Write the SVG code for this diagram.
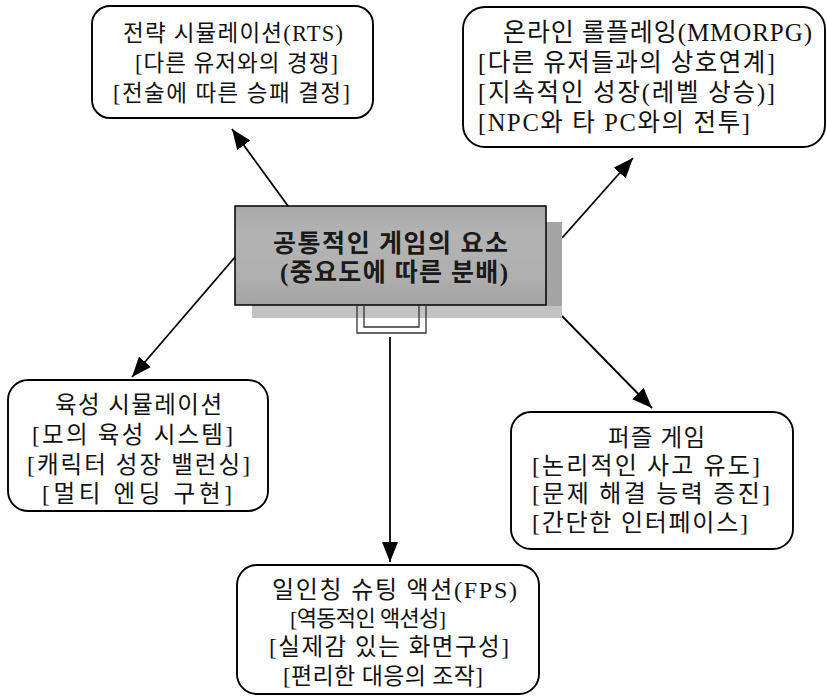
<svg xmlns="http://www.w3.org/2000/svg" width="827" height="696" viewBox="0 0 827 696">
<defs>
<style>
.box{fill:#fff;stroke:#000;stroke-width:1.9}
.t{font-family:"Liberation Serif","Noto Sans CJK KR",serif;font-size:23px;fill:#111}
.tb{font-family:"Liberation Serif","Noto Sans CJK KR",serif;font-size:25px;font-weight:bold;fill:#1a1a1a}
.conn{stroke:#000;stroke-width:1.8;fill:none}
</style>
<marker id="arr" viewBox="0 0 20 16" refX="20" refY="8" markerWidth="20" markerHeight="16" markerUnits="userSpaceOnUse" orient="auto">
<path d="M0,0 L20,8 L0,16 Z" fill="#000"/>
</marker>
<linearGradient id="fg" x1="0" y1="0" x2="0" y2="1">
<stop offset="0" stop-color="#a8a8a8"/>
<stop offset="0.3" stop-color="#b4b4b4"/>
<stop offset="0.75" stop-color="#aeaeae"/>
<stop offset="1" stop-color="#a2a2a2"/>
</linearGradient>
</defs>
<rect width="827" height="696" fill="#fff"/>

<g id="connectors">
<line class="conn" x1="288" y1="206" x2="232" y2="129" marker-end="url(#arr)"/>
<line class="conn" x1="562" y1="238" x2="633" y2="158" marker-end="url(#arr)"/>
<line class="conn" x1="236" y1="256" x2="132" y2="377" marker-end="url(#arr)"/>
<line class="conn" x1="390" y1="337" x2="390" y2="562" marker-end="url(#arr)"/>
<line class="conn" x1="562" y1="316" x2="652" y2="408" marker-end="url(#arr)"/>
</g>

<g id="center">
<rect x="252" y="222" width="310" height="96" fill="#c2c2c2"/>
<rect x="546" y="222" width="16" height="84" fill="#a4a4a4"/>
<rect x="235" y="206" width="311" height="99" fill="url(#fg)" stroke="#000" stroke-width="1.5"/>
<path d="M357,305 V333 H426 V305" fill="none" stroke="#333" stroke-width="1.3"/>
<path d="M364,305 V327 H419 V305" fill="none" stroke="#333" stroke-width="1.3"/>
<text class="tb" x="273" y="252" textLength="235" lengthAdjust="spacing">공통적인 게임의 요소</text>
<text class="tb" x="280" y="281" textLength="228" lengthAdjust="spacing">(중요도에 따른 분배)</text>
</g>

<g id="rts">
<rect class="box" x="92" y="6" width="281" height="112" rx="18"/>
<text class="t" x="123" y="41" textLength="220" lengthAdjust="spacing" style="font-size:22.5px">전략 시뮬레이션(RTS)</text>
<text class="t" x="135" y="71" textLength="203" lengthAdjust="spacing" style="font-size:22.5px">[다른 유저와의 경쟁]</text>
<text class="t" x="113" y="101" textLength="237" lengthAdjust="spacing" style="font-size:22.5px">[전술에 따른 승패 결정]</text>
</g>

<g id="mmorpg">
<rect class="box" x="463" y="7" width="362" height="140" rx="22"/>
<text class="t" x="503" y="41" textLength="309" lengthAdjust="spacing" style="font-size:25px">온라인 롤플레잉(MMORPG)</text>
<text class="t" x="478" y="71" textLength="297" lengthAdjust="spacing" style="font-size:24.5px">[다른 유저들과의 상호연계]</text>
<text class="t" x="478" y="101" textLength="297" lengthAdjust="spacing" style="font-size:24.5px">[지속적인 성장(레벨 상승)]</text>
<text class="t" x="478" y="131" textLength="272" lengthAdjust="spacing" style="font-size:24.5px">[NPC와 타 PC와의 전투]</text>
</g>

<g id="nurture">
<rect class="box" x="8" y="380" width="260" height="131" rx="20"/>
<text class="t" x="55" y="413" textLength="167" lengthAdjust="spacing" style="font-size:23.5px">육성 시뮬레이션</text>
<text class="t" x="32" y="443" textLength="201" lengthAdjust="spacing" style="font-size:23.5px">[모의 육성 시스템]</text>
<text class="t" x="27" y="473" textLength="223" lengthAdjust="spacing" style="font-size:23.5px">[캐릭터 성장 밸런싱]</text>
<text class="t" x="42" y="502" textLength="190" lengthAdjust="spacing" style="font-size:23.5px">[멀티 엔딩 구현]</text>
</g>

<g id="puzzle">
<rect class="box" x="511" y="412" width="282" height="137" rx="20"/>
<text class="t" x="608" y="446" textLength="97" lengthAdjust="spacing" style="font-size:23.5px">퍼즐 게임</text>
<text class="t" x="532" y="474" textLength="228" lengthAdjust="spacing" style="font-size:24px">[논리적인 사고 유도]</text>
<text class="t" x="532" y="502" textLength="238" lengthAdjust="spacing" style="font-size:24px">[문제 해결 능력 증진]</text>
<text class="t" x="532" y="531" textLength="216" lengthAdjust="spacing" style="font-size:24px">[간단한 인터페이스]</text>
</g>

<g id="fps">
<rect class="box" x="237" y="565" width="302" height="129" rx="20"/>
<text class="t" x="272" y="598" textLength="245" lengthAdjust="spacing" style="font-size:24px">일인칭 슈팅 액션(FPS)</text>
<text class="t" x="290" y="626" textLength="156" lengthAdjust="spacing" style="font-size:22px">[역동적인 액션성]</text>
<text class="t" x="269" y="655" textLength="240" lengthAdjust="spacing" style="font-size:23.5px">[실제감 있는 화면구성]</text>
<text class="t" x="283" y="684" textLength="200" lengthAdjust="spacing" style="font-size:23px">[편리한 대응의 조작]</text>
</g>
</svg>
